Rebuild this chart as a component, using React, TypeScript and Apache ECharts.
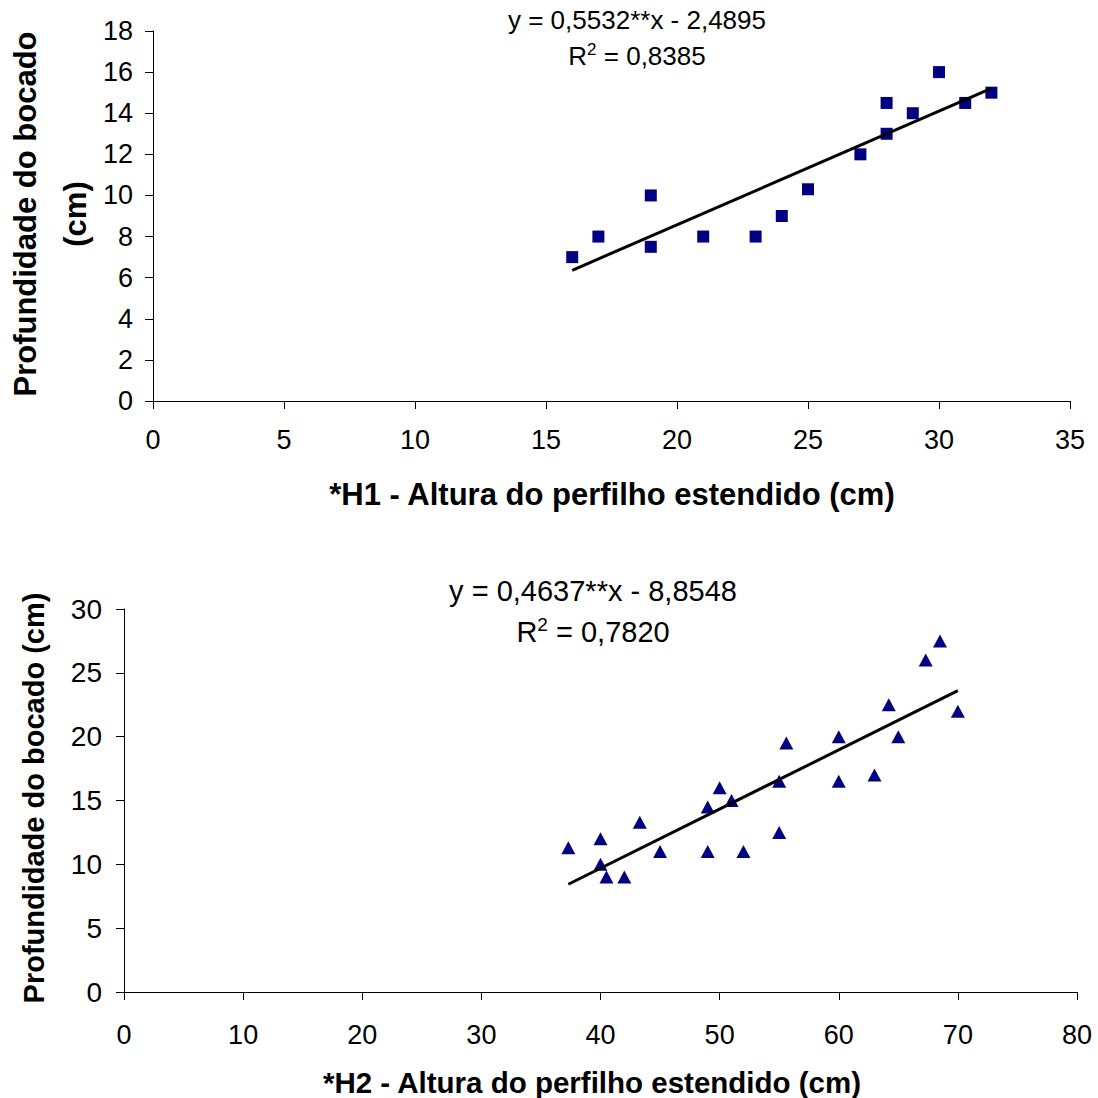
import React, { useEffect, useRef } from "react";
import * as echarts from "echarts";

// Top panel (H1)
const h1X = [16, 17, 19, 19, 21, 23, 24, 25, 27, 28, 28, 29, 30, 31, 32];
const h1Y = [7, 8, 10, 7.5, 8, 8, 9, 10.3, 12, 14.5, 13, 14, 16, 14.5, 15];
const h1Trend = [[16, 6.36], [32, 15.21]];
const h1Eq = "y = 0,5532**x - 2,4895";
const h1R2 = " = 0,8385";
const h1XTitle = "*H1 - Altura do perfilho estendido (cm)";

// Bottom panel (H2)
const h2X = [37.3, 40, 40, 40.5, 42, 43.3, 45, 49, 49, 50, 51, 52, 55, 55, 55.6, 60, 60, 63, 64.2, 65, 67.3, 68.5, 70];
const h2Y = [11.3, 12, 10, 9, 9, 13.3, 11, 14.5, 11, 16, 15, 11, 12.5, 16.5, 19.5, 20, 16.5, 17, 22.5, 20, 26, 27.5, 22];
const h2Trend = [[37.3, 8.44], [70, 23.6]];
const h2Eq = "y = 0,4637**x - 8,8548";
const h2R2 = " = 0,7820";
const h2XTitle = "*H2 - Altura do perfilho estendido (cm)";

const yTitle = "Profundidade do bocado";

const FONT = "'Liberation Sans', Arial, sans-serif";
const NAVY = "#000080";

function zip(xs: number[], ys: number[]) {
  return xs.map((x, i) => [x, ys[i]]);
}

function axisBase(min: number, max: number, interval: number, margin: number, fs: number) {
  return {
    type: "value" as const,
    min,
    max,
    interval,
    splitLine: { show: false },
    axisLine: { show: true, onZero: false, lineStyle: { color: "#000", width: 1 } },
    axisTick: { show: true, inside: false, length: 8, lineStyle: { color: "#000" } },
    axisLabel: { fontSize: fs, color: "#000", fontFamily: FONT, margin },
  };
}

function r2Rich(fs: number) {
  return {
    a: { fontSize: fs, fontFamily: FONT, color: "#000" },
    s: { fontSize: Math.round(fs * 0.65), fontFamily: FONT, color: "#000", verticalAlign: "top", padding: [0, 0, Math.round(fs * 0.5), 0] },
  };
}

export default function App() {
  const ref = useRef<HTMLDivElement>(null);
  useEffect(() => {
    if (!ref.current) return;
    const chart = echarts.init(ref.current, null, { renderer: "svg" });
    chart.setOption({
      animation: false,
      backgroundColor: "#fff",
      grid: [
        { left: 153, top: 31, width: 917, height: 370 },
        { left: 124, top: 609, width: 953, height: 383 },
      ],
      xAxis: [
        { ...axisBase(0, 35, 5, 25, 27), gridIndex: 0 },
        { ...axisBase(0, 80, 10, 29, 27), gridIndex: 1 },
      ],
      yAxis: [
        { ...axisBase(0, 18, 2, 20, 27), gridIndex: 0 },
        { ...axisBase(0, 30, 5, 22, 28), gridIndex: 1 },
      ],
      series: [
        {
          type: "scatter",
          xAxisIndex: 0,
          yAxisIndex: 0,
          data: zip(h1X, h1Y),
          symbol: "rect",
          symbolSize: 12,
          itemStyle: { color: NAVY, opacity: 1 },
          z: 3,
        },
        {
          type: "line",
          xAxisIndex: 0,
          yAxisIndex: 0,
          data: h1Trend,
          symbol: "none",
          lineStyle: { color: "#000", width: 3 },
          z: 4,
        },
        {
          type: "scatter",
          xAxisIndex: 1,
          yAxisIndex: 1,
          data: zip(h2X, h2Y),
          symbol: "triangle",
          symbolSize: [14, 13],
          itemStyle: { color: NAVY, opacity: 1 },
          z: 3,
        },
        {
          type: "line",
          xAxisIndex: 1,
          yAxisIndex: 1,
          data: h2Trend,
          symbol: "none",
          lineStyle: { color: "#000", width: 3 },
          z: 4,
        },
      ],
      graphic: [
        {
          type: "text", x: 637, y: 20,
          style: { text: h1Eq, fontSize: 26, fontFamily: FONT, fill: "#000", textAlign: "center", textVerticalAlign: "middle" },
        },
        {
          type: "text", x: 637, y: 56,
          style: { text: "{a|R}{s|2}{a|" + h1R2 + "}", rich: r2Rich(26), textAlign: "center", textVerticalAlign: "middle" },
        },
        {
          type: "text", x: 593, y: 591,
          style: { text: h2Eq, fontSize: 29, fontFamily: FONT, fill: "#000", textAlign: "center", textVerticalAlign: "middle" },
        },
        {
          type: "text", x: 593, y: 632,
          style: { text: "{a|R}{s|2}{a|" + h2R2 + "}", rich: r2Rich(29), textAlign: "center", textVerticalAlign: "middle" },
        },
        {
          type: "text", x: 612, y: 494,
          style: { text: h1XTitle, fontSize: 31, fontWeight: "bold", fontFamily: FONT, fill: "#000", textAlign: "center", textVerticalAlign: "middle" },
        },
        {
          type: "text", x: 592, y: 1082,
          style: { text: h2XTitle, fontSize: 29.5, fontWeight: "bold", fontFamily: FONT, fill: "#000", textAlign: "center", textVerticalAlign: "middle" },
        },
        {
          type: "text", x: 50, y: 214, rotation: Math.PI / 2,
          style: {
            text: yTitle + "\n(cm)", fontSize: 31, fontWeight: "bold", fontFamily: FONT, fill: "#000",
            lineHeight: 50, textAlign: "center", textVerticalAlign: "middle",
          },
        },
        {
          type: "text", x: 34, y: 798, rotation: Math.PI / 2,
          style: {
            text: yTitle + " (cm)", fontSize: 29, fontWeight: "bold", fontFamily: FONT, fill: "#000",
            textAlign: "center", textVerticalAlign: "middle",
          },
        },
      ],
    });
    return () => chart.dispose();
  }, []);
  return (
    <div
      ref={ref}
      style={{ position: "absolute", left: 0, top: 0, width: 1098, height: 1098, background: "#fff" }}
    />
  );
}
